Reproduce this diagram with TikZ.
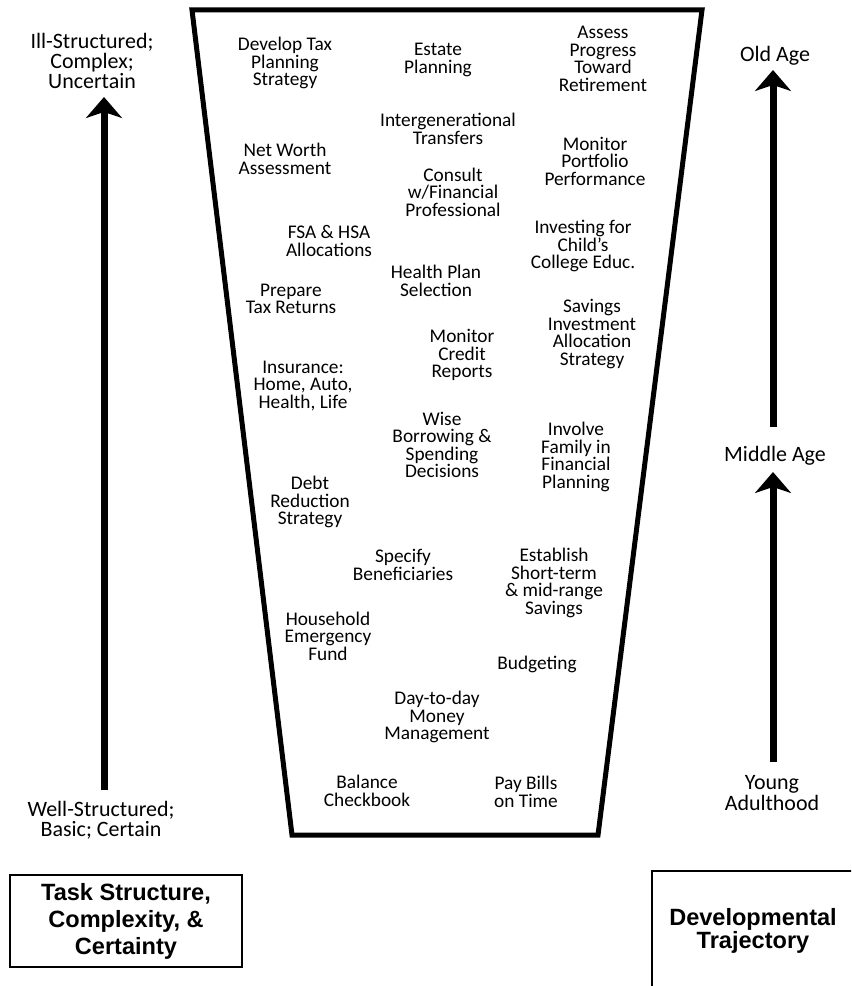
\documentclass[tikz,border=0pt]{standalone}
\usepackage{fontspec}
\setmainfont{Carlito}
\newfontfamily\boxfont{Liberation Sans}
\usepackage{tikz}
\usetikzlibrary{arrows.meta,positioning}

\begin{document}
\begin{tikzpicture}[
                    x=0.02cm, y=-0.02cm,
                    task/.style={align=center, inner sep=0pt, font=\fontsize{11}{10}\selectfont},
                    side/.style={align=center, inner sep=0pt, font=\fontsize{12.5}{10}\selectfont},
                    title/.style={draw, line width=0.04cm, align=center, font=\boxfont\bfseries\fontsize{13.4}{15.4}\selectfont},
                    rise/.style={line width=0.14cm, -{Stealth[length=0.42cm, width=0.72cm, inset=0.12cm]}}
                ]
                    \useasboundingbox (0,0) rectangle (851,986);
                    \clip (0,0) rectangle (851,986);
                    % funnel
                    \draw[line width=0.1cm, line join=miter] (192,10) -- (702,10) -- (598,835) -- (292,835) -- cycle;
                    % tasks, top to bottom
                    \node[task] (devtax) at (285,63) {Develop Tax\\Planning\\Strategy};
                    \node[task] (estate) at (438,60) {Estate\\Planning};
                    \node[task] (assess) at (603,59) {Assess\\Progress\\Toward\\Retirement};
                    \node[task] (intergen) at (448,129) {Intergenerational\\Transfers};
                    \node[task] (networth) at (285,159) {Net Worth\\Assessment};
                    \node[task] (portfolio) at (595,161) {Monitor\\Portfolio\\Performance};
                    \node[task] (consult) at (453,192) {Consult\\w/Financial\\Professional};
                    \node[task] (fsahsa) at (329,241) {FSA \& HSA\\Allocations};
                    \node[task] (childedu) at (583,246) {Investing for\\Child’s\\College Educ.};
                    \node[task] (health) at (436,281) {Health Plan\\Selection};
                    \node[task] (taxret) at (291,299) {Prepare\\Tax Returns};
                    \node[task] (savinv) at (592,334) {Savings\\Investment\\Allocation\\Strategy};
                    \node[task] (credit) at (462,355) {Monitor\\Credit\\Reports};
                    \node[task] (insur) at (303,386) {Insurance:\\Home, Auto,\\Health, Life};
                    \node[task] (borrow) at (442,445) {Wise\\Borrowing \&\\Spending\\Decisions};
                    \node[task] (family) at (576,457) {Involve\\Family in\\Financial\\Planning};
                    \node[task] (debt) at (310,502) {Debt\\Reduction\\Strategy};
                    \node[task] (benef) at (403,565) {Specify\\Beneficiaries};
                    \node[task] (shortterm) at (554,583) {Establish\\Short-term\\\& mid-range\\Savings};
                    \node[task] (emerg) at (328,636) {Household\\Emergency\\Fund};
                    \node[task] (budget) at (537,664) {Budgeting};
                    \node[task] (daytoday) at (437,717) {Day-to-day\\Money\\Management};
                    \node[task] (checkbook) at (367,791) {Balance\\Checkbook};
                    \node[task] (paybills) at (526,792) {Pay Bills\\on Time};
                    % left scale
                    \node[side] (illstr) at (92,61) {Ill-Structured;\\Complex;\\Uncertain};
                    \node[side] (wellstr) at (101,820) {Well-Structured;\\Basic; Certain};
                    \coordinate (ltail) at (104,790);
                    \coordinate (lhead) at (104,97);
                    \draw[rise] (ltail) -- (lhead);
                    % right scale
                    \node[side] (oldage) at (775,56) {Old Age};
                    \node[side] (midage) at (775,456) {Middle Age};
                    \node[side] (youngad) at (772,793) {Young\\Adulthood};
                    \coordinate (rtailA) at (773,762);
                    \coordinate (rheadA) at (773,472);
                    \coordinate (rtailB) at (773,427);
                    \coordinate (rheadB) at (773,70);
                    \draw[rise] (rtailA) -- (rheadA);
                    \draw[rise] (rtailB) -- (rheadB);
                    % boxes
                    \node[title, minimum width=4.64cm, minimum height=1.84cm] (taskbox) at (126,921) {Task Structure,\\Complexity, \&\\Certainty};
                    \node[title, minimum width=4.04cm, minimum height=2.4cm, font=\boxfont\bfseries\fontsize{13.4}{13}\selectfont] (devbox) at (753,931) {Developmental\\Trajectory};
                \end{tikzpicture}
\end{document}
